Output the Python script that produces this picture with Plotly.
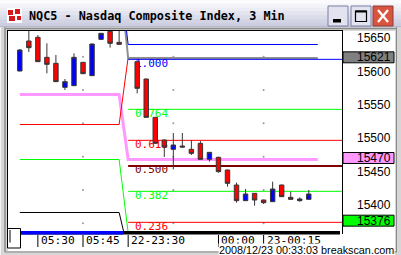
import plotly.graph_objects as go

# ---------------- data ----------------
slots = [0, 1, 2, 3, 4, 5, 6, 7, 8, 9, 10, 11,
         13, 14, 15, 16, 17, 18, 19, 20, 21, 22, 23, 24, 25, 26, 27, 28, 29, 30, 31, 32]
opens = [15600.5, 15645.5, 15651, 15621, 15612, 15576, 15578.5, 15613.5, 15593.5, 15648, 15660, 15643.5,
         15614.5, 15588.5, 15531, 15497, 15483, 15488, 15483, 15492, 15468, 15471, 15452, 15429.5,
         15406, 15417, 15407, 15404.5, 15429.5, 15411, 15406, 15408]
highs = [15633.5, 15662, 15654.5, 15642, 15624.5, 15588.5, 15627, 15614, 15641.5, 15657.5, 15665, 15665,
         15616, 15589, 15531.5, 15498, 15507.5, 15507.5, 15497, 15495.5, 15479, 15472, 15452.5, 15433,
         15423.5, 15417.5, 15407.5, 15434.5, 15430, 15419.5, 15411, 15422]
lows = [15600, 15629, 15614, 15597, 15584, 15572, 15578, 15596, 15593, 15647.5, 15635.5, 15640,
        15567, 15530.5, 15491.5, 15471.5, 15453, 15486, 15474.5, 15467.5, 15464.5, 15448, 15427, 15403,
        15405.5, 15398.5, 15401, 15404, 15411.5, 15407.5, 15404.5, 15407.5]
closes = [15632, 15635.5, 15614.5, 15610.5, 15584.5, 15584.5, 15621, 15596.5, 15641, 15657, 15642, 15640.5,
          15574.5, 15531, 15492, 15486.5, 15489.5, 15486.5, 15477, 15468, 15478.5, 15449.5, 15432, 15406,
          15416, 15407, 15403, 15423.5, 15412, 15408, 15408.5, 15416]

fib_ratios = ["1.000", "0.764", "0.618", "0.500", "0.382", "0.236"]
fib_values = [15618, 15543, 15496.5, 15458, 15420, 15373.5]
fib_colors = ["#0000ff", "#00ff00", "#ff0000", "#800000", "#00ff00", "#ff0000"]
fib_widths = [1, 1, 1, 2, 1, 1]
fib_start_slot = 12
fib_end_slot = 37

pink_x = [0, 11, 12, 33]
pink_y = [15565.25, 15565.25, 15467.75, 15467.75]
red_x = [0, 11, 12]
red_y = [15520.25, 15520.25, 15621]
green_x = [0, 11, 12]
green_y = [15467.75, 15467.75, 15358]
black_x = [0, 11, 12]
black_y = [15388.25, 15388.25, 15331]
gray_x = [11, 12, 33]
gray_y = [15750, 15620, 15620]
bluetop_x = [11, 12, 33]
bluetop_y = [15754, 15640.25, 15640.25]

dot_slots = [7, 17, 27]
dot_values = [15622, 15572, 15522, 15472, 15422, 15372]

ytick_vals = [15400, 15450, 15500, 15550, 15600, 15650]
xtick_slots = [2, 7, 12, 22, 27]
xtick_text = ["05:30", "05:45", "22-23:30", "00:00", "23-00:15"]

marker_labels = ["15621", "15470", "15376"]
marker_values = [15621, 15470, 15376]
marker_fills = ["#808080", "#ff99ff", "#00ff00"]

title_text = "NQC5 - Nasdaq Composite Index, 3 Min"
footer_text = "2008/12/23 00:33:03 breakscan.com"

# ---------------- geometry ----------------
W, H = 401, 255
PL, PR, PT, PB = 8, 342, 31, 231
XR = [-1.307, 35.68]
YR = [15360.5, 15660.5]


def px(x):
    return (x - PL) / (PR - PL)


def py(y):
    return (PB - y) / (PB - PT)


MONO = "DejaVu Sans Mono"
SANS = "Liberation Sans, Arial"

fig = go.Figure()

# grid dots
dx, dy = [], []
for s in dot_slots:
    for v in dot_values:
        dx.append(s)
        dy.append(v)
fig.add_trace(go.Scatter(x=dx, y=dy, mode="markers",
                         marker=dict(size=2, color="#9a9a9a", line=dict(width=0)),
                         hoverinfo="skip", showlegend=False))

# indicator lines
for xs, ys, col, w in [(pink_x, pink_y, "#ff99ff", 3),
                       (red_x, red_y, "#ff0000", 1),
                       (green_x, green_y, "#00ff00", 1),
                       (black_x, black_y, "#000000", 1),
                       (gray_x, gray_y, "#909090", 2),
                       (bluetop_x, bluetop_y, "#0000ff", 1)]:
    fig.add_trace(go.Scatter(x=xs, y=ys, mode="lines", line=dict(color=col, width=w),
                             hoverinfo="skip", showlegend=False))

# fib lines
for v, c, w in zip(fib_values, fib_colors, fib_widths):
    fig.add_trace(go.Scatter(x=[fib_start_slot, fib_end_slot], y=[v, v], mode="lines",
                             line=dict(color=c, width=w), hoverinfo="skip", showlegend=False))

# fib labels (below candles)
fig.add_trace(go.Scatter(x=[fib_start_slot + 0.75] * len(fib_values),
                         y=[v - 7 for v in fib_values],
                         mode="text", text=fib_ratios, textposition="middle right",
                         textfont=dict(family=MONO, size=11, color=fib_colors),
                         hoverinfo="skip", showlegend=False))

# candles on overlay axes (drawn above lines)
fig.add_trace(go.Candlestick(x=slots, open=opens, high=highs, low=lows, close=closes,
                             xaxis="x2", yaxis="y2",
                             increasing=dict(fillcolor="#0000ff", line=dict(color="#363636", width=1)),
                             decreasing=dict(fillcolor="#ff0000", line=dict(color="#363636", width=1)),
                             whiskerwidth=0, hoverinfo="skip", showlegend=False))

shapes = []
ann = []


def prect(x0, y0, x1, y1, fill, line=None, lw=0, layer="above"):
    shapes.append(dict(type="rect", xref="paper", yref="paper",
                       x0=px(x0), x1=px(x1), y0=py(y0), y1=py(y1),
                       fillcolor=fill, line=dict(color=line or fill, width=lw), layer=layer))


def pline(x0, y0, x1, y1, col, lw=1, layer="above"):
    shapes.append(dict(type="line", xref="paper", yref="paper",
                       x0=px(x0), x1=px(x1), y0=py(y0), y1=py(y1),
                       line=dict(color=col, width=lw), layer=layer))


# window frame / panel
prect(0, 0, 401, 255, "#d6d6d6", layer="below")
prect(8, 31, 395, 251, "#ffffff", layer="below")
pline(0.5, 26, 0.5, 255, "#f4f4f4", 1, "below")
pline(5, 27, 5, 252, "#8a8a8a", 1.5, "below")
pline(7.5, 30, 7.5, 231, "#000000", 1, "below")
pline(5, 28.5, 396, 28.5, "#8a8a8a", 1.5, "below")
pline(7, 30.5, 342, 30.5, "#000000", 1, "below")
pline(396.5, 27, 396.5, 252, "#8a8a8a", 1, "below")
pline(5, 252, 397, 252, "#8a8a8a", 1, "below")
pline(342.5, 30, 342.5, 234, "#000000", 1, "above")

# title bar gradient
bands = ["#fbfbfd", "#f3f3f8", "#ebecf4", "#e3e4ef", "#dadcea", "#d2d4e5", "#cbcde0"]
bh = 27 / len(bands)
for i, c in enumerate(bands):
    prect(0, i * bh, 401, (i + 1) * bh + 0.3, c)
pline(0, 26.5, 401, 26.5, "#b8bacb", 1)

# icon
prect(7, 8, 22, 23, "#ffffff")
for (a, b, c2, d) in [(8, 10, 13, 15), (15, 9, 20, 14), (9, 16, 15, 21), (17, 16, 21, 20)]:
    prect(a, b, c2, d, "#d81818")

# buttons
for (x0, x1) in [(328, 348), (351, 371)]:
    shapes.append(dict(type="rect", xref="paper", yref="paper", x0=px(x0), x1=px(x1),
                       y0=py(6), y1=py(26), fillcolor="#e2e3ef",
                       line=dict(color="#7a7fa6", width=1), layer="above"))
prect(333, 19, 341, 22.5, "#000000")
shapes.append(dict(type="rect", xref="paper", yref="paper", x0=px(355.5), x1=px(366.5),
                   y0=py(11), y1=py(21.5), fillcolor="rgba(0,0,0,0)",
                   line=dict(color="#000000", width=1.2), layer="above"))
prect(355.5, 10.5, 366.5, 12.5, "#000000")
shapes.append(dict(type="rect", xref="paper", yref="paper", x0=px(373), x1=px(393),
                   y0=py(6), y1=py(26), fillcolor="#d9543e",
                   line=dict(color="#8c3a3a", width=1), layer="above"))
pline(378, 10, 388, 22, "#ffffff", 2.2)
pline(378, 22, 388, 10, "#ffffff", 2.2)

# bottom bar
prect(8, 231, 340, 234.5, "#000000")
prect(21, 231, 123, 234.5, "#0000ff")
# lower-left box
shapes.append(dict(type="rect", xref="paper", yref="paper", x0=px(7.5), x1=px(20.5),
                   y0=py(228.5), y1=py(248), fillcolor="#ffffff",
                   line=dict(color="#000000", width=1), layer="above"))
pline(10, 230, 10, 242.5, "#000000", 1)

# x ticks and labels
for s, t in zip(xtick_slots, xtick_text):
    shapes.append(dict(type="line", xref="x", yref="paper", x0=s, x1=s,
                       y0=py(235), y1=py(247), line=dict(color="#000000", width=1), layer="above"))
    ann.append(dict(x=s, xref="x", y=py(240.3), yref="paper", text=t, showarrow=False,
                    xanchor="left", yanchor="middle", xshift=1,
                    font=dict(family=MONO, size=11.2, color="#000000")))
ann.append(dict(x=px(217.5), xref="paper", y=py(249.6), yref="paper", text=footer_text,
                showarrow=False, xanchor="left", yanchor="middle", bgcolor="#ffffff", borderpad=0,
                font=dict(family=SANS, size=10.8, color="#000000")))

# right-side value markers
for lab, v, fc in zip(marker_labels, marker_values, marker_fills):
    shapes.append(dict(type="rect", xref="paper", yref="y", x0=px(343), x1=px(394),
                       y0=v - 8.2, y1=v + 8.2, fillcolor=fc,
                       line=dict(color="#000000", width=1), layer="above"))
    ann.append(dict(x=px(393), xref="paper", y=v, yref="y", text=lab, showarrow=False,
                    xanchor="right", yanchor="middle",
                    font=dict(family=SANS, size=12, color="#000000")))

# title
ann.append(dict(x=px(26.5), xref="paper", y=py(16), yref="paper", text=title_text,
                showarrow=False, xanchor="left", yanchor="middle",
                font=dict(family=MONO, size=11.8, color="#000000", weight="bold")))

fig.update_layout(
    width=W, height=H,
    margin=dict(l=PL, r=W - PR, t=PT, b=H - PB, pad=0),
    paper_bgcolor="#ffffff", plot_bgcolor="#ffffff",
    showlegend=False,
    xaxis=dict(range=XR, showgrid=False, zeroline=False, showticklabels=False, ticks="",
               showline=False, fixedrange=True),
    yaxis=dict(range=YR, side="right", showgrid=False, zeroline=False, ticks="",
               tickvals=ytick_vals, ticktext=[str(v) for v in ytick_vals],
               tickfont=dict(family=SANS, size=12, color="#000000"),
               ticklabelstandoff=14, showline=False, fixedrange=True),
    xaxis2=dict(range=XR, overlaying="x", visible=False, rangeslider=dict(visible=False),
                fixedrange=True),
    yaxis2=dict(range=YR, overlaying="y", visible=False, fixedrange=True),
    boxgap=0.3, boxgroupgap=0.3,
    shapes=shapes, annotations=ann,
)

fig.write_html("out.html", config={"displayModeBar": False})
